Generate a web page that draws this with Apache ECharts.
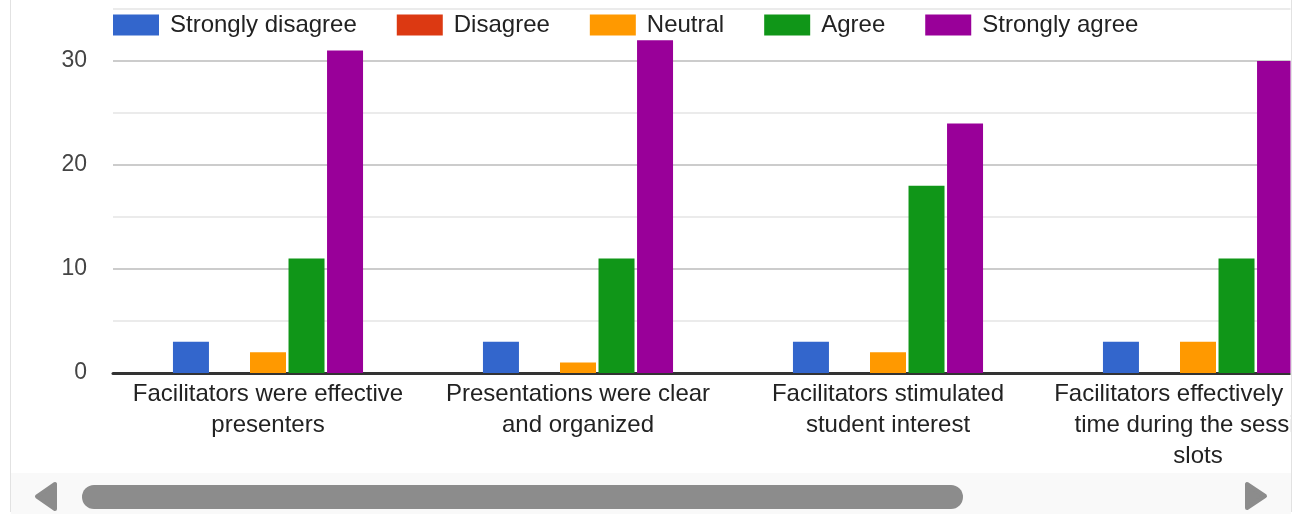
<!DOCTYPE html>
<html>
<head>
<meta charset="utf-8">
<script src="https://cdn.jsdelivr.net/npm/echarts@6/dist/echarts.min.js"></script>
<style>
  html, body { margin: 0; padding: 0; background: #fff; overflow: hidden; }
  #wrap { position: absolute; left: 0; top: 0; width: 1304px; height: 514px; overflow: hidden; }
  #chart { position: absolute; left: 0; top: 0; width: 1400px; height: 514px; }
</style>
</head>
<body>
<div id="wrap"><div id="chart"></div></div>
<script>
// ---- data ----
const categories = [
  "Facilitators were effective\npresenters",
  "Presentations were clear\nand organized",
  "Facilitators stimulated\nstudent interest",
  "Facilitators effectively used\ntime during the session\nslots"
];
const seriesNames = ["Strongly disagree", "Disagree", "Neutral", "Agree", "Strongly agree"];
const stronglyDisagree = [3, 3, 3, 3];
const disagree = [0, 0, 0, 0];
const neutral = [2, 1, 2, 3];
const agree = [11, 11, 18, 11];
const stronglyAgree = [31, 32, 24, 30];
const yTicks = [0, 10, 20, 30];

const colors = ["#3366cc", "#dc3912", "#ff9900", "#109618", "#990099"];
const values = [stronglyDisagree, disagree, neutral, agree, stronglyAgree];

const chart = echarts.init(document.getElementById('chart'), null, { renderer: 'canvas', width: 1400, height: 514 });
const FONT = 'Arial, "Liberation Sans", sans-serif';

const series = seriesNames.map((name, i) => ({
  name: name,
  type: 'bar',
  data: values[i],
  barWidth: 36,
  barGap: '7%',
  itemStyle: { color: colors[i] },
  emphasis: { disabled: true }
}));

chart.setOption({
  animation: false,
  textStyle: { fontFamily: FONT },
  color: colors,
  legend: {
    left: 113,
    top: 13,
    padding: 0,
    itemWidth: 46,
    itemHeight: 21,
    itemGap: 40,
    icon: 'rect',
    textStyle: { fontSize: 24, color: '#222', fontFamily: FONT, padding: [0, 0, 0, 6] },
    data: seriesNames
  },
  grid: { left: 113, top: 9, width: 1240, height: 364, containLabel: false },
  xAxis: {
    type: 'category',
    data: categories,
    axisLine: { lineStyle: { color: '#333', width: 3 } },
    axisTick: { show: false },
    axisLabel: {
      interval: 0,
      fontSize: 24,
      lineHeight: 31,
      color: '#222',
      margin: 6,
      fontFamily: FONT
    }
  },
  yAxis: {
    type: 'value',
    min: 0,
    max: 35,
    interval: 5,
    axisLine: { show: false },
    axisTick: { show: false },
    axisLabel: {
      fontSize: 23,
      color: '#444',
      margin: 26,
      fontFamily: FONT,
      formatter: v => (yTicks.indexOf(v) >= 0 ? String(v) : '')
    },
    splitLine: { lineStyle: { color: ['#cccccc', '#ebebeb'], width: 2 } }
  },
  series: series,
  graphic: [
    { type: 'rect', z: 100, shape: { x: 1290.5, y: 0, width: 120, height: 514 }, style: { fill: '#fff' } },
    { type: 'rect', z: 100, shape: { x: 0, y: 0, width: 10, height: 514 }, style: { fill: '#fff' } },
    { type: 'line', z: 101, shape: { x1: 10.5, y1: 0, x2: 10.5, y2: 512 }, style: { stroke: '#e2e2e2', lineWidth: 1 } },
    { type: 'line', z: 101, shape: { x1: 1291.5, y1: 0, x2: 1291.5, y2: 512 }, style: { stroke: '#e2e2e2', lineWidth: 1 } },
    { type: 'rect', z: 100, shape: { x: 11, y: 473, width: 1280, height: 41 }, style: { fill: '#f9f9f9' } },
    { type: 'rect', z: 102, shape: { x: 82, y: 485, width: 881, height: 24, r: 12 }, style: { fill: '#8c8c8c' } },
    { type: 'polygon', z: 102, shape: { points: [[55, 484], [55, 509], [37, 496.5]] },
      style: { fill: '#8c8c8c', stroke: '#8c8c8c', lineWidth: 4, lineJoin: 'round' } },
    { type: 'polygon', z: 102, shape: { points: [[1247, 484], [1247, 508], [1265, 496]] },
      style: { fill: '#8c8c8c', stroke: '#8c8c8c', lineWidth: 4, lineJoin: 'round' } }
  ]
});
</script>
</body>
</html>
